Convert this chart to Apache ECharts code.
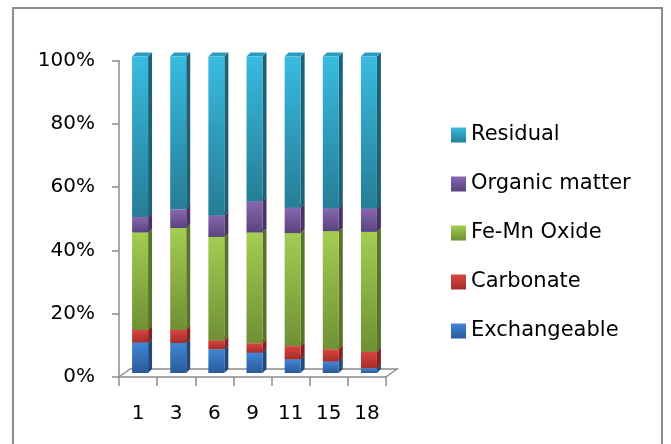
<!DOCTYPE html>
<html>
<head>
<meta charset="utf-8">
<script src="https://cdn.jsdelivr.net/npm/echarts@6/dist/echarts.min.js"></script>
<style>
  html, body { margin: 0; padding: 0; background: #fff; }
  #chart { width: 671px; height: 444px; }
</style>
</head>
<body>
<div id="chart"></div>
<script>
// Sampling days and fraction shares (%) of each bar
const categories = ['1', '3', '6', '9', '11', '15', '18'];
const exchangeable = [9.6, 9.5, 7.5, 6.4, 4.3, 3.6, 1.5];
const carbonate = [4.0, 4.1, 2.8, 3.0, 4.2, 3.9, 5.2];
const feMnOxide = [30.8, 32.2, 32.7, 35.0, 35.7, 37.3, 37.9];
const organicMatter = [4.9, 5.9, 6.8, 9.9, 8.0, 7.2, 7.4];
const residual = [50.7, 48.3, 50.2, 45.7, 47.8, 48.0, 48.0];
const yTicks = [0, 20, 40, 60, 80, 100];

const FONT = 'DejaVu Sans';

// Stack order from the floor upward
const fractions = [
  { name: 'Exchangeable',   values: exchangeable,  light: '#4186d6', dark: '#2a5a9a', side: '#22497e', top: '#3a78c4' },
  { name: 'Carbonate',      values: carbonate,     light: '#da4440', dark: '#a42d2a', side: '#832320', top: '#c83a36' },
  { name: 'Fe-Mn Oxide',    values: feMnOxide,     light: '#a3cd52', dark: '#6f9034', side: '#587429', top: '#93bb48' },
  { name: 'Organic matter', values: organicMatter, light: '#8767b0', dark: '#5a437c', side: '#463464', top: '#7a5ca0' },
  { name: 'Residual',       values: residual,      light: '#38bbe0', dark: '#267d96', side: '#1c6176', top: '#2a9cbf' }
];

// Cumulative bounds so each custom series draws one stacked segment
const running = categories.map(() => 0);
const stacked = fractions.map(f => {
  const rows = f.values.map((v, i) => {
    const lo = running[i];
    running[i] = lo + v;
    return [i, lo, running[i]];
  });
  return rows;
});

// Depth offset of the box-shaped bars and of the floor
const BAR_W = 16, SIDE = 4, SHIFT_X = 2, SHIFT_Y = -4;

function makeRender(f) {
  return function (params, api) {
    const cat = api.value(0);
    const p0 = api.coord([cat, api.value(1)]);
    const p1 = api.coord([cat, api.value(2)]);
    const x = p0[0] - BAR_W / 2 + SHIFT_X;
    const yb = p0[1] + SHIFT_Y;
    const yt = p1[1] + SHIFT_Y;
    const grad = new echarts.graphic.LinearGradient(0, 0, 0, 1, [
      { offset: 0, color: f.light }, { offset: 1, color: f.dark }
    ]);
    return {
      type: 'group',
      children: [
        { type: 'polygon', shape: { points: [[x + BAR_W, yt], [x + BAR_W + SIDE, yt - SIDE], [x + BAR_W + SIDE, yb - SIDE], [x + BAR_W, yb]] },
          style: { fill: f.side } },
        { type: 'polygon', shape: { points: [[x, yt], [x + SIDE, yt - SIDE], [x + BAR_W + SIDE, yt - SIDE], [x + BAR_W, yt]] },
          style: { fill: f.top } },
        { type: 'rect', shape: { x: x, y: yt, width: BAR_W, height: yb - yt },
          style: { fill: grad } }
      ]
    };
  };
}

// Floor of the plot: back edge and side edges, built from the axis scale
function renderFloor(params, api) {
  const a = api.coord([0, 0]);
  const b = api.coord([categories.length - 1, 0]);
  const half = api.size([1, 0])[0] / 2;
  const xl = a[0] - half, xr = b[0] + half, y = a[1];
  const dx = 11, dy = -8;
  return {
    type: 'polyline',
    shape: { points: [[xl, y], [xl + dx, y + dy], [xr + dx, y + dy], [xr, y]] },
    style: { stroke: '#8c8c8c', lineWidth: 1.5, fill: null }
  };
}

const series = [{
  type: 'custom',
  name: 'floor',
  renderItem: renderFloor,
  data: [[0, 0]],
  silent: true,
  z: 1
}].concat(fractions.map((f, k) => ({
  type: 'custom',
  name: f.name,
  renderItem: makeRender(f),
  encode: { x: 0, y: [1, 2] },
  itemStyle: {
    color: new echarts.graphic.LinearGradient(0, 0, 0, 1, [
      { offset: 0, color: f.light }, { offset: 1, color: f.dark }
    ])
  },
  data: stacked[k],
  z: 2
})));

const chart = echarts.init(document.getElementById('chart'), null, { renderer: 'canvas' });
chart.setOption({
  animation: false,
  backgroundColor: '#ffffff',
  graphic: [{
    type: 'rect',
    shape: { x: 13, y: 8, width: 649, height: 460 },
    style: { fill: null, stroke: '#8c8c8c', lineWidth: 2 },
    z: 0
  }],
  grid: { left: 119, top: 60.5, width: 267, height: 316.5, containLabel: false },
  xAxis: {
    type: 'category',
    data: categories,
    boundaryGap: true,
    axisLine: { show: true, lineStyle: { color: '#8c8c8c', width: 1.5 } },
    axisTick: { show: true, length: 9, interval: 0, lineStyle: { color: '#8c8c8c', width: 1.5 } },
    axisLabel: { margin: 27, fontFamily: FONT, fontSize: 20, color: '#000' },
    splitLine: { show: false }
  },
  yAxis: {
    type: 'value',
    min: yTicks[0],
    max: yTicks[yTicks.length - 1],
    interval: yTicks[1] - yTicks[0],
    axisLine: { show: true, lineStyle: { color: '#8c8c8c', width: 1.5 } },
    axisTick: { show: true, length: 7, lineStyle: { color: '#8c8c8c', width: 1.5 } },
    axisLabel: { margin: 24, fontFamily: FONT, fontSize: 20, color: '#000', formatter: '{value}%' },
    splitLine: { show: false }
  },
  legend: {
    orient: 'vertical',
    left: 451,
    top: 123,
    padding: 0,
    itemWidth: 15,
    itemHeight: 15,
    itemGap: 25,
    icon: 'rect',
    selectedMode: false,
    data: fractions.map(f => f.name).reverse(),
    textStyle: { fontFamily: FONT, fontSize: 21, color: '#000', lineHeight: 24 }
  },
  series: series
});
</script>
</body>
</html>
